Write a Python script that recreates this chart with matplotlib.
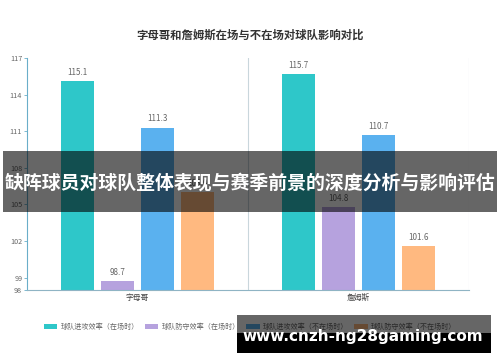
import matplotlib.pyplot as plt
from matplotlib.patches import Rectangle
import numpy as np

plt.rcParams['font.family'] = ['Noto Sans CJK SC', 'DejaVu Sans']

players = ['字母哥', '詹姆斯']
series_names = ['球队进攻效率（在场时）', '球队防守效率（在场时）',
                '球队进攻效率（不在场时）', '球队防守效率（不在场时）']
off_on = [115.1, 115.7]
def_on = [98.7, 104.8]
off_off = [111.3, 110.7]
def_off = [106.0, 101.6]
colors = ['#2ec7c9', '#b6a2de', '#5ab1ef', '#ffb980']
yticks = [98, 99, 102, 105, 108, 111, 114, 117]

fig = plt.figure(figsize=(5, 3.62), dpi=100)
ax = fig.add_axes([0.054, 0.199, 0.884, 0.641])

x = np.arange(len(players))
width = 0.149
step = 0.181
series = [off_on, def_on, off_off, def_off]
for i, (vals, name, c) in enumerate(zip(series, series_names, colors)):
    pos = x + (i - 1.5) * step
    bars = ax.bar(pos, np.array(vals) - 98, width, bottom=98, color=c, label=name)
    for b, v in zip(bars, vals):
        ax.text(b.get_x() + b.get_width() / 2, v + 0.35, f'{v:.1f}', ha='center', va='bottom',
                fontsize=5.8, color='#666666')

ax.set_xlim(-0.5, 1.5)
ax.set_ylim(98, 117)
ax.set_yticks(yticks)
ax.set_yticklabels([str(t) for t in yticks], fontsize=5.2, color='#666666')
ax.set_xticks(x)
ax.set_xticklabels(players, fontsize=5.6, color='#444444')
ax.tick_params(axis='x', length=0, pad=3)
ax.tick_params(axis='y', length=2, width=0.6, color='#6aaec9', pad=1.5)
for s in ['top', 'right']:
    ax.spines[s].set_visible(False)
ax.spines['left'].set_color('#6aaec9')
ax.spines['bottom'].set_color('#8fb4c4')
ax.spines['left'].set_linewidth(0.8)
ax.spines['bottom'].set_linewidth(0.8)
for xv in [0.5, 1.5]:
    ax.axvline(xv, color='#c9d6dc', lw=0.8, zorder=0)

fig.text(0.5, 1 - 35 / 362, '字母哥和詹姆斯在场与不在场对球队影响对比', ha='center', va='center',
         fontsize=8.2, fontweight='bold', color='#333333')

leg = fig.legend(loc='center', bbox_to_anchor=(0.5, 1 - 327 / 362), ncol=4, frameon=False,
                 fontsize=5.1, handlelength=1.9, handleheight=0.9, columnspacing=0.9,
                 handletextpad=0.4)
for t in leg.get_texts():
    t.set_color('#666666')

# overlay banner
fig.patches.append(Rectangle((3 / 500, 1 - 212 / 362), 494 / 500, 61 / 362, transform=fig.transFigure,
                             facecolor='black', edgecolor='none', alpha=0.6, zorder=10))
fig.text(0.5, 1 - 183 / 362, '缺阵球员对球队整体表现与赛季前景的深度分析与影响评估', ha='center',
         va='center', fontsize=13.6, fontweight='bold', color='white', zorder=11)

# watermark
fig.patches.append(Rectangle((237 / 500, 1 - 333 / 362), 254 / 500, 18 / 362, transform=fig.transFigure,
                             facecolor='black', edgecolor='none', alpha=0.6, zorder=10))
fig.patches.append(Rectangle((237 / 500, 1 - 353 / 362), 254 / 500, 20 / 362, transform=fig.transFigure,
                             facecolor='black', edgecolor='none', zorder=10))
fig.text(363 / 500, 1 - 337 / 362, 'www.cnzh-ng28gaming.com', ha='center', va='center',
         fontsize=11, fontweight='bold', color='white', family='DejaVu Sans', zorder=11)

fig.savefig('out.png', dpi=100)
